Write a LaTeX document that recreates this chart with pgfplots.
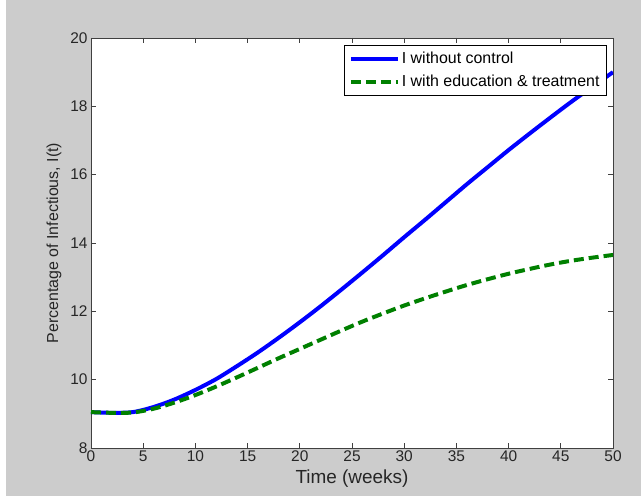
\documentclass[border=0pt]{standalone}
\usepackage{pgfplots}
\pgfplotsset{compat=1.18}
\usepackage{fontspec}
\setmainfont{Liberation Sans}
\definecolor{figgray}{RGB}{204,204,204}
\definecolor{mgreen}{RGB}{0,128,0}
\begin{document}
\begin{tikzpicture}[x=1bp,y=1bp]
\fill[white] (-91,-50) rectangle (550,448);
\fill[figgray] (-85,-48) rectangle (550,448);
\begin{axis}[
  at={(0,0)}, anchor=south west,
  scale only axis, width=522bp, height=410bp,
  xmin=0, xmax=50, ymin=8, ymax=20,
  xtick={0,5,...,50}, ytick={8,10,...,20},
  tick align=inside, major tick length=5bp,
  axis background/.style={fill=white},
  axis line style={draw=black!75, line width=0.8pt},
  every tick/.style={black!75, line width=0.8pt},
  /pgf/number format/assume math mode=true,
  tick label style={font=\fontsize{15.5}{17}\selectfont, text=black!85},
  xticklabel style={yshift=1bp},
  xlabel={Time (weeks)}, ylabel={Percentage of Infectious, I(t)},
  xlabel style={font=\fontsize{19}{21}\selectfont, text=black!85, yshift=-1bp},
  ylabel style={font=\fontsize{16}{18}\selectfont, text=black!85, yshift=2bp},
  legend style={at={(0.988,0.983)}, anchor=north east, draw=black, line width=0.6pt,
    font=\fontsize{16}{18}\selectfont, row sep=6bp, inner xsep=5bp, inner ysep=5bp},
  legend cell align=left,
  legend image code/.code={\draw[#1] (0bp,0bp) -- (47bp,0bp);},
]
\addplot[blue, line width=4pt, smooth] coordinates {
(0,9.05) (2,9.03) (4,9.05) (6,9.2) (8,9.42) (10,9.7) (12,10.02) (14,10.4) (16,10.8) (18,11.23) (20,11.68) (22,12.15) (24,12.64) (26,13.14) (28,13.65) (30,14.17) (32,14.68) (34,15.2) (36,15.72) (38,16.22) (40,16.72) (42,17.2) (44,17.67) (46,18.13) (48,18.57) (50,19.0)};
\addlegendentry{I without control}
\addplot[mgreen, line width=4pt, dash pattern=on 10bp off 5bp, smooth] coordinates {
(0,9.05) (2,9.03) (4,9.04) (6,9.15) (8,9.33) (10,9.55) (12,9.8) (14,10.07) (16,10.35) (18,10.63) (20,10.9) (22,11.17) (24,11.44) (26,11.7) (28,11.94) (30,12.17) (32,12.38) (34,12.58) (36,12.77) (38,12.94) (40,13.1) (42,13.24) (44,13.37) (46,13.48) (48,13.57) (50,13.65)};
\addlegendentry{I with education \& treatment}
\end{axis}
\end{tikzpicture}
\end{document}
